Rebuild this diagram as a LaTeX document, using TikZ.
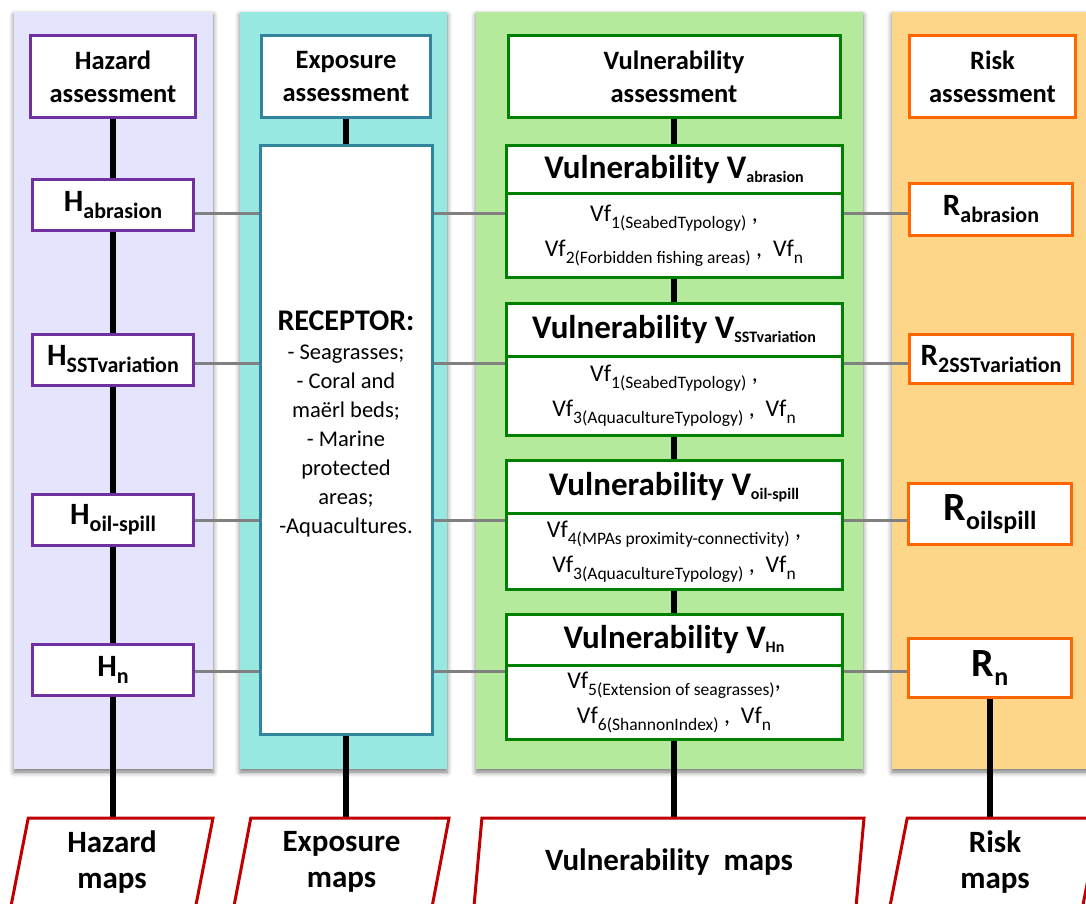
\documentclass[tikz,border=0pt]{standalone}
\usepackage{fontspec}
\setmainfont{Carlito}
\usepackage{xcolor}
\usepackage{tikz}
\usetikzlibrary{shapes.geometric,positioning,shadows.blur}
\definecolor{hazline}{RGB}{112,48,160}
\definecolor{expline}{RGB}{49,132,155}
\definecolor{vulline}{RGB}{0,128,0}
\definecolor{riskline}{RGB}{255,102,0}
\definecolor{mapline}{RGB}{192,0,0}
\definecolor{hazfill}{RGB}{228,228,252}
\definecolor{expfill}{RGB}{152,232,226}
\definecolor{vulfill}{RGB}{181,233,156}
\definecolor{riskfill}{RGB}{253,214,138}
\definecolor{linkgray}{RGB}{128,128,128}
\pgfdeclarelayer{panels}
\pgfdeclarelayer{wires}
\pgfsetlayers{panels,wires,main}
\newcommand{\hsub}[2]{{\fontsize{31}{31}\selectfont #1}\raisebox{-7pt}{\fontsize{22}{22}\selectfont #2}}
\newcommand{\rbig}[2]{{\fontsize{40}{40}\selectfont #1}\raisebox{-9pt}{\fontsize{26}{26}\selectfont #2}}
\newcommand{\vsub}[1]{\raisebox{-4pt}{\fontsize{16}{16}\selectfont #1}}
\newcommand{\vf}[1]{Vf\raisebox{-7pt}{\fontsize{17.5}{17.5}\selectfont #1}}

\begin{document}
\begin{tikzpicture}[
    x=1pt, y=-1pt,
    panel/.style={blur shadow={shadow xshift=0pt, shadow yshift=-3pt,
        shadow blur radius=5pt, shadow opacity=55}},
    box/.style={rectangle, draw, line width=3pt, fill=white, inner sep=2pt,
        align=center, font=\bfseries},
    head/.style={box, minimum height=82pt, font=\fontsize{26.5}{33}\selectfont\bfseries},
    hazbox/.style={box, draw=hazline, minimum width=161pt, minimum height=51pt},
    riskbox/.style={box, draw=riskline, minimum width=163pt},
    vtitle/.style={box, draw=vulline, minimum width=336pt,
        font=\fontsize{33}{33}\selectfont\bfseries},
    vbody/.style={box, draw=vulline, minimum width=336pt,
        font=\fontsize{24}{35}\selectfont},
    mapbox/.style={trapezium, trapezium left angle=75.5, trapezium right angle=104.5,
        trapezium stretches body=true, draw=mapline, line width=3pt, fill=white,
        minimum height=88pt, inner sep=2pt, align=center,
        font=\fontsize{31}{36}\selectfont\bfseries},
    spine/.style={line width=6.5pt, draw=black},
    link/.style={line width=3pt, draw=linkgray}
]
\useasboundingbox (0,0) rectangle (1086,903);

% column headers
\node[head, draw=hazline, minimum width=165pt] (haz) at (113,76.5) {Hazard\\assessment};
\node[head, draw=expline, minimum width=169pt] (exp) at (346,76.5) {Exposure\\assessment};
\node[head, draw=vulline, minimum width=332pt] (vul) at (674,76.5) {Vulnerability\\assessment};
\node[head, draw=riskline, minimum width=166pt] (risk) at (992.5,76.5) {Risk\\assessment};

% hazards
\node[hazbox] (habr) at (113,205) {\hsub{H}{abrasion}};
\node[hazbox] (hsst) at (113,359.5) {\hsub{H}{SSTvariation}};
\node[hazbox] (hoil) at (113,520) {\hsub{H}{oil-spill}};
\node[hazbox] (hn) at (113,670) {\hsub{H}{n}};

% exposure
\node[box, draw=expline, minimum width=170pt, minimum height=589pt] (rec) at (346,439.5)
    {\parbox[c][258pt][t]{168pt}{\centering\mdseries\fontsize{22.5}{29}\selectfont
    {\fontsize{30}{30}\selectfont\bfseries RECEPTOR:}\\
    - Seagrasses;\\ - Coral and\\ maërl beds;\\ - Marine\\ protected\\ areas;\\ -Aquacultures.}};

% vulnerability
\node[vtitle, minimum height=48pt] (vabrt) at (674,169.5) {Vulnerability V\vsub{abrasion}};
\node[vbody, minimum height=84pt, below=-3pt of vabrt] (vabr)
    {\vf{1(SeabedTypology)}~,\\ \vf{2(Forbidden fishing areas)}~,~~\vf{n}};
\node[vtitle, minimum height=53pt] (vsstt) at (674,330) {Vulnerability V\vsub{SSTvariation}};
\node[vbody, minimum height=79pt, below=-3pt of vsstt] (vsst)
    {\vf{1(SeabedTypology)}~,\\ \vf{3(AquacultureTypology)}~,~~\vf{n}};
\node[vtitle, minimum height=53pt] (voilt) at (674,487) {Vulnerability V\vsub{oil-spill}};
\node[vbody, minimum height=76pt, below=-3pt of voilt] (voil)
    {\vf{4(MPAs proximity-connectivity)}~,\\ \vf{3(AquacultureTypology)}~,~~\vf{n}};
\node[vtitle, minimum height=51pt] (vnt) at (674,640) {Vulnerability V\vsub{Hn}};
\node[vbody, minimum height=74pt, below=-3pt of vnt] (vn)
    {\vf{5(Extension of seagrasses)},\\ \vf{6(ShannonIndex)}~,~~\vf{n}};

% risk
\node[riskbox, minimum height=52pt] (rabr) at (991,209.5) {\hsub{R}{abrasion}};
\node[riskbox, minimum height=49pt] (rsst) at (991,359) {\hsub{R}{2SSTvariation}};
\node[riskbox, minimum height=61pt] (roil) at (990,514) {\rbig{R}{oilspill}};
\node[riskbox, minimum height=59pt] (rn) at (990,668) {\rbig{R}{n}};

% maps
\node[mapbox, minimum width=202pt] (hmaps) at (112,862) {Hazard\\maps};
\node[mapbox, minimum width=215pt] (emaps) at (341.5,862) {Exposure\\maps};
\node[mapbox, minimum width=390pt] (vmaps) at (669,862) {Vulnerability~~maps};
\node[mapbox, minimum width=210pt] (rmaps) at (995,862) {Risk\\maps};

\begin{pgfonlayer}{panels}
\fill[panel, hazfill] (14,12) rectangle (213,769);
\fill[panel, expfill] (240,12) rectangle (447,769);
\fill[panel, vulfill] (476,12) rectangle (863,769);
\fill[panel, riskfill] (892,12) rectangle (1100,769);
\end{pgfonlayer}

\begin{pgfonlayer}{wires}
\coordinate (row1) at (0,213);
\coordinate (row2) at (0,363);
\coordinate (row3) at (0,520);
\coordinate (row4) at (0,671);
\draw[link] (habr.east |- row1) -- (rabr.west |- row1);
\draw[link] (hsst.east |- row2) -- (rsst.west |- row2);
\draw[link] (hoil.east |- row3) -- (roil.west |- row3);
\draw[link] (hn.east |- row4) -- (rn.west |- row4);

\draw[spine] (haz.south) -- (haz.south |- hmaps.north);
\draw[spine] (exp.south) -- (rec.north);
\draw[spine] (rec.south) -- (rec.south |- emaps.north);
\draw[spine] (vul.south) -- (vul.south |- vmaps.north);
\draw[spine] (rn.south) -- (rn.south |- rmaps.north);
\end{pgfonlayer}

\end{tikzpicture}
\end{document}
